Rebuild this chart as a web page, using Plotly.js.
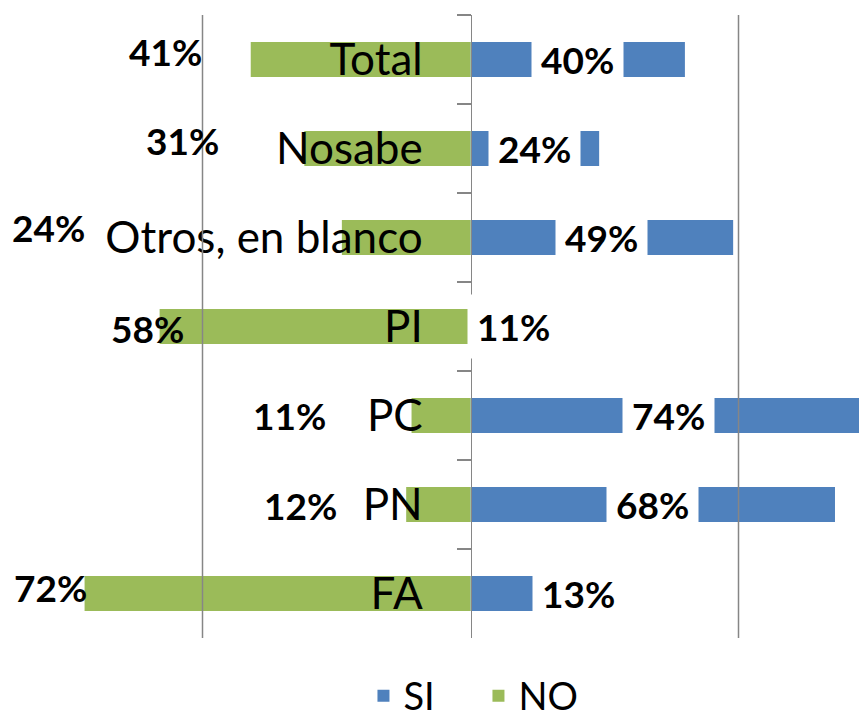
<!DOCTYPE html>
<html>
<head>
<meta charset="utf-8">
<script src="https://cdn.plot.ly/plotly-3.0.1.min.js"></script>
<style>html,body{margin:0;padding:0;background:#fff;}#chart{width:859px;height:720px;}</style>
</head>
<body>
<div id="chart"></div>
<script>
// ---- data ----
var categories = ["Total", "Nosabe", "Otros, en blanco", "PI", "PC", "PN", "FA"];
var siValues = [40, 24, 49, 11, 74, 68, 13];
var noValues = [41, 31, 24, 58, 11, 12, 72];
var seriesNames = ["SI", "NO"];
var gridValues = [-50, 50];

// ---- styling / placement ----
var BLUE = "#4F81BD", GREEN = "#9BBB59", GRAY = "#868686";
var xMin = -87.78, xMax = 72.48;
var siNudge = [0, 0, 0, 2.6, 0, 0, 13.6];          // extra x offset of SI labels (data units)
var noNudge = [-15.9, -22.8, -54.8, -2.3, -22.7, -19.7, -6.3]; // extra x offset of NO labels
var noYShift = [8, 8, 10, -2, 0, -1, 6];

var traces = [
  {
    type: "bar", orientation: "h", name: seriesNames[0],
    y: categories, x: siValues,
    marker: {color: BLUE}, hoverinfo: "none"
  },
  {
    type: "bar", orientation: "h", name: seriesNames[1],
    y: categories, x: noValues.map(function (v) { return -v; }),
    marker: {color: GREEN}, hoverinfo: "none"
  }
];

var annotations = [];
categories.forEach(function (c, i) {
  annotations.push({
    x: siValues[i] / 2 + siNudge[i], y: c, xref: "x", yref: "y",
    text: siValues[i] + "%", showarrow: false,
    xanchor: "center", yanchor: "middle",
    bgcolor: "#ffffff", borderpad: 9,
    font: {family: "Lato", size: 37, color: "#000", weight: "bold"}
  });
  annotations.push({
    x: -noValues[i] + noNudge[i], y: c, xref: "x", yref: "y",
    text: noValues[i] + "%", showarrow: false,
    xanchor: "center", yanchor: "middle", yshift: noYShift[i],
    font: {family: "Lato", size: 37, color: "#000", weight: "bold"}
  });
});

var shapes = gridValues.map(function (g) {
  return {type: "line", xref: "x", yref: "paper", x0: g, x1: g, y0: 0, y1: 1,
          layer: "above", line: {color: GRAY, width: 1.5}};
});

var layout = {
  width: 859, height: 720,
  margin: {l: 0, r: 0, t: 15, b: 82, autoexpand: false},
  paper_bgcolor: "#fff", plot_bgcolor: "rgba(0,0,0,0)",
  barmode: "relative", bargap: 0.607,
  font: {family: "Lato", color: "#000"},
  xaxis: {
    range: [xMin, xMax], showgrid: false, zeroline: false,
    showticklabels: false, ticks: "", showline: false, fixedrange: true
  },
  yaxis: {
    type: "category", categoryorder: "array", categoryarray: categories,
    autorange: "reversed",
    anchor: "free", position: (0 - xMin) / (xMax - xMin), side: "left",
    showline: true, linecolor: GRAY, linewidth: 1.5,
    ticks: "outside", tickson: "boundaries", ticklen: 14, tickwidth: 1.5, tickcolor: GRAY,
    ticklabelstandoff: 39,
    showgrid: false, zeroline: false,
    tickfont: {family: "Lato", size: 44, color: "#000"},
    layer: "above traces", fixedrange: true
  },
  showlegend: true,
  legend: {
    orientation: "h", x: 0.557, xanchor: "center", y: -0.093, yanchor: "middle",
    font: {family: "Lato", size: 38, color: "#000"},
    traceorder: "normal", itemwidth: 30, entrywidth: 70, entrywidthmode: "pixels"
  },
  annotations: annotations,
  shapes: shapes
};

Plotly.newPlot("chart", traces, layout, {displayModeBar: false, staticPlot: true});
</script>
</body>
</html>
